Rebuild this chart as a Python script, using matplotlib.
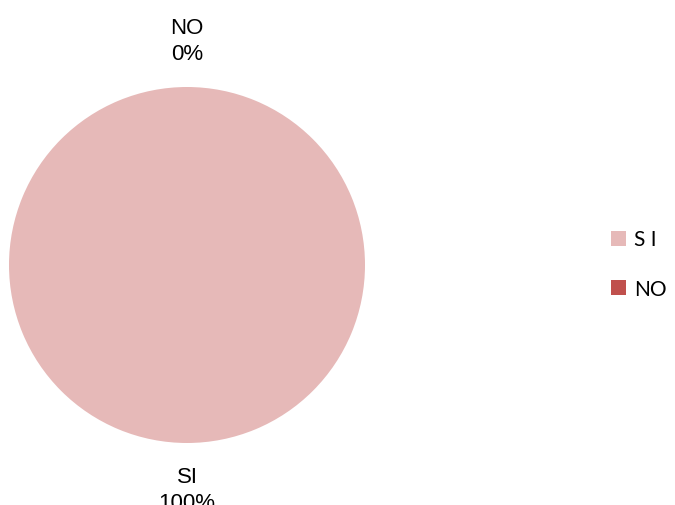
import matplotlib
matplotlib.use("Agg")
import matplotlib.pyplot as plt
from matplotlib.patches import Patch

# -- Data ----------------------------------------------------------------------
categories  = ["SI", "NO"]
legend_text = ["S I", "NO"]
values      = [100, 0]
colors      = ["#E6B9B8", "#C0504D"]

fig = plt.figure(figsize=(6.75, 5.06), dpi=100)
ax = fig.add_axes([9 / 675, (506 - 266 - 178) / 506, 356 / 675, 356 / 506])

total = sum(values)
labels = [f"{c}\n{v / total * 100:.0f}%" for c, v in zip(categories, values)]
wedges, texts = ax.pie(values, colors=colors, startangle=90, counterclock=False,
                       labels=labels, labeldistance=1.26,
                       wedgeprops=dict(linewidth=0),
                       textprops=dict(fontsize=16, family="Liberation Sans",
                                      color="black", linespacing=1.3))
for t in texts:
    t.set_ha("center"); t.set_va("center")
    t.set_clip_on(False)
ax.set_xlim(-1, 1); ax.set_ylim(-1, 1)
ax.set_aspect("equal")

handles = [Patch(facecolor=c, edgecolor="none") for c in colors]
fig.legend(handles, legend_text, loc="center left",
           bbox_to_anchor=(611 / 675, 1 - 265 / 506), frameon=False,
           borderpad=0, borderaxespad=0,
           handlelength=0.72, handleheight=0.72, handletextpad=0.4,
           labelspacing=1.4, prop=dict(family="Lato", size=15))

fig.savefig("out.png", dpi=100)
